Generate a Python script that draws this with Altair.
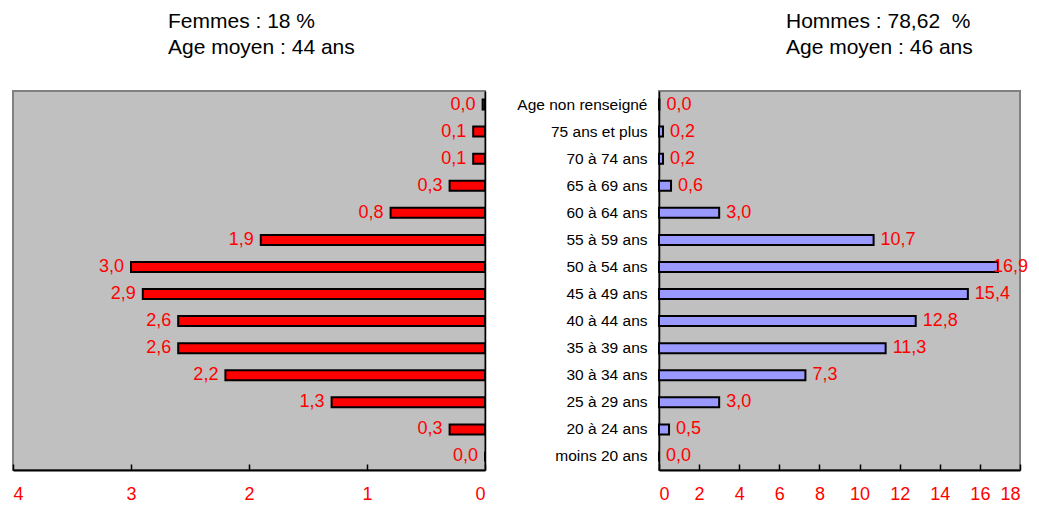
import altair as alt
import pandas as pd

ages = ["Age non renseigné", "75 ans et plus", "70 à 74 ans", "65 à 69 ans",
        "60 à 64 ans", "55 à 59 ans", "50 à 54 ans", "45 à 49 ans",
        "40 à 44 ans", "35 à 39 ans", "30 à 34 ans", "25 à 29 ans",
        "20 à 24 ans", "moins 20 ans"]
femmes = [0.02, 0.1, 0.1, 0.3, 0.8, 1.9, 3.0, 2.9, 2.6, 2.6, 2.2, 1.3, 0.3, 0.0]
hommes = [0.02, 0.2, 0.2, 0.6, 3.0, 10.7, 16.9, 15.4, 12.8, 11.3, 7.3, 3.0, 0.5, 0.0]
ticks_f = [0, 1, 2, 3, 4]
ticks_h = [0, 2, 4, 6, 8, 10, 12, 14, 16, 18]

def fr(v):
    return f"{v:.1f}".replace(".", ",")

df = pd.DataFrame({
    "age": ages,
    "femmes": femmes,
    "hommes": hommes,
    "flab": [fr(v) for v in femmes],
    "hlab": [fr(v) for v in hommes],
})

RED = "#ff0000"
FONT = "Liberation Sans"
W_L, W_R, H = 472, 361, 379

# ---------- Left panel: Femmes ----------
base_l = alt.Chart(df).encode(
    y=alt.Y("age:N", sort=ages, title=None,
            axis=alt.Axis(orient="right", labels=False, ticks=False,
                          domainColor="black", domainWidth=1.5))
)
bars_l = base_l.mark_bar(size=10, color=RED, stroke="black", strokeWidth=2).encode(
    x=alt.X("femmes:Q", title=None,
            scale=alt.Scale(domain=[0, 4], reverse=True, nice=False),
            axis=alt.Axis(orient="bottom", values=ticks_f, ticks=False, grid=False,
                          labelColor=RED, labelFontSize=18, labelPadding=15,
                          domainColor="black", domainWidth=2))
)
text_l = base_l.mark_text(align="right", baseline="middle", dx=-7, color=RED,
                          fontSize=18, font=FONT).encode(
    x=alt.X("femmes:Q", title=None,
            axis=alt.Axis(orient="top", offset=-H, values=ticks_f, labels=False,
                          domain=False, ticks=True, tickSize=6, tickColor="black",
                          tickWidth=1.5, grid=False)),
    text="flab:N",
)
left = alt.layer(bars_l, text_l).properties(
    width=W_L, height=H,
    title=alt.TitleParams(["Femmes : 18 %", "Age moyen : 44 ans"], anchor="start",
                          frame="group", dx=155, dy=-4, fontSize=21, fontWeight="normal",
                          font=FONT, color="black", lineHeight=26, offset=29),
)

# ---------- Right panel: Hommes ----------
base_r = alt.Chart(df).encode(
    y=alt.Y("age:N", sort=ages, title=None,
            axis=alt.Axis(orient="left", ticks=False, labelColor="black",
                          labelFontSize=15.5, labelPadding=12, labelFont=FONT,
                          domainColor="black", domainWidth=1.5))
)
bars_r = base_r.mark_bar(size=10, color="#9999ff", stroke="black", strokeWidth=2).encode(
    x=alt.X("hommes:Q", title=None,
            scale=alt.Scale(domain=[0, 18], nice=False),
            axis=alt.Axis(orient="bottom", values=ticks_h, ticks=False, grid=False,
                          labelColor=RED, labelFontSize=18, labelPadding=15,
                          domainColor="black", domainWidth=2))
)
# labels that would leave the chart are pulled back inside (as the original does)
text_r = base_r.transform_calculate(lx="min(datum.hommes, 16.3)").mark_text(
    align="left", baseline="middle", dx=7, color=RED, fontSize=18, font=FONT
).encode(
    x=alt.X("lx:Q", title=None,
            axis=alt.Axis(orient="top", offset=-H, values=ticks_h, labels=False,
                          domain=False, ticks=True, tickSize=6, tickColor="black",
                          tickWidth=1.5, grid=False)),
    text="hlab:N",
)
right = alt.layer(bars_r, text_r).properties(
    width=W_R, height=H,
    title=alt.TitleParams(["Hommes : 78,62\u00a0 %", "Age moyen : 46 ans"], anchor="start",
                          frame="group", dx=127, dy=-4, fontSize=21, fontWeight="normal",
                          font=FONT, color="black", lineHeight=26, offset=29),
)

chart = alt.hconcat(left, right, spacing=28).properties(
    padding={"left": 3, "right": 0, "top": 2, "bottom": 0}
).configure(font=FONT).configure_view(
    fill="#c0c0c0", stroke="#808080", strokeWidth=2
).configure_axis(labelFont=FONT)

chart.save("out.html", embed_options={"renderer": "svg", "actions": False})
